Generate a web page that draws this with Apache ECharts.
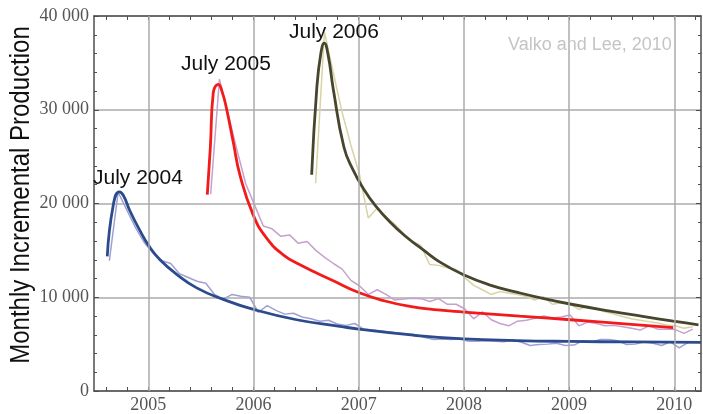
<!DOCTYPE html>
<html><head><meta charset="utf-8">
<script src="https://cdn.jsdelivr.net/npm/echarts@6/dist/echarts.min.js"></script>
<style>html,body{margin:0;padding:0;background:#fff}#c{width:703px;height:414px}</style>
</head><body><div id="c"></div>
<script>
// axis ranges and tick labels
const xMin = 2004.484, xMax = 2010.254;
const yearLabels = [2005, 2006, 2007, 2008, 2009, 2010];
const minorTickYears = [2004.6, 2004.8, 2005, 2005.2, 2005.4, 2005.6, 2005.8, 2006, 2006.2, 2006.4, 2006.6, 2006.8,
  2007, 2007.2, 2007.4, 2007.6, 2007.8, 2008, 2008.2, 2008.4, 2008.6, 2008.8, 2009, 2009.2, 2009.4, 2009.6, 2009.8, 2010, 2010.2];
const yMax = 40000, yStep = 10000;

// monthly raw production (start year, monthly values)
const blueRawStart = 2004.63;
const blueRaw = [13900, 21200, 19300, 17400, 15800, 14700, 13900, 13600, 12500, 12100, 11700, 11500, 10300, 9800, 10300, 10100, 10000,
  8400, 9100, 8600, 8200, 8300, 7900, 7700, 7450, 7550, 7150, 7000, 7200, 6600, 6500, 6400, 6300, 6200, 6100, 6000, 5700, 5500, 5550,
  5500, 5550, 5300, 5300, 5350, 5300, 5250, 5450, 5200, 4850, 4950, 5000, 5100, 4850, 4900, 5350, 5200, 5500, 5500, 5350, 4950, 5000,
  5250, 5100, 4850, 5250, 4600, 5150];
const redRawStart = 2005.593;
const redRaw = [21000, 33270, 29500, 25700, 22100, 19850, 17600, 17300, 16500, 16650, 15750, 15950, 15000, 14250, 13600, 13000, 11800,
  11200, 10300, 10800, 10300, 9700, 9800, 9900, 9850, 9550, 9850, 9250, 9250, 8750, 7700, 8450, 7600, 7200, 6950, 7450, 7550, 7750, 8000,
  7800, 7900, 8100, 6950, 7350, 7200, 6950, 7000, 6850, 6700, 6500, 6950, 6600, 6600, 6550, 6150, 6600];
const oliveRawStart = 2006.591;
const oliveRaw = [22160, 38300, 34000, 29800, 26300, 23100, 18450, 19500, 18600, 17800, 16800, 16000, 15500, 13500, 13400, 13150, 12950,
  12100, 11300, 10800, 10300, 10600, 10450, 10300, 10100, 9700, 10050, 9250, 9400, 9300, 8700, 9050, 8750, 8450, 8200, 7950, 7700, 7550,
  7400, 7250, 7050, 6950, 6700, 6850];

// fitted curves
const blueFitYears = [2004.61, 2004.667, 2004.724, 2004.762, 2004.826, 2004.921, 2005.01, 2005.111, 2005.27, 2005.46, 2005.713, 2006.0,
  2006.41, 2006.82, 2007.0, 2007.52, 2008.0, 2008.5, 2009.0, 2009.6, 2010.254];
const blueFitValues = [14360, 19820, 21240, 20880, 19200, 17100, 15400, 14000, 12450, 11000, 9770, 8700, 7600, 6900, 6600, 5950, 5560,
  5380, 5290, 5230, 5190];
const redFitYears = [2005.561, 2005.59, 2005.618, 2005.665, 2005.705, 2005.745, 2005.808, 2005.872, 2005.998, 2006.125, 2006.283, 2006.442,
  2006.759, 2007.0, 2007.25, 2007.5, 2007.75, 2008.0, 2008.53, 2009.01, 2009.5, 2009.99];
const redFitValues = [20950, 26000, 31820, 32700, 31800, 30050, 26530, 23000, 18760, 16300, 14530, 13470, 11750, 10500, 9600, 9000, 8650,
  8420, 7980, 7600, 7180, 6770];
const oliveFitYears = [2006.553, 2006.601, 2006.64, 2006.673, 2006.71, 2006.759, 2006.86, 2006.95, 2007.05, 2007.15, 2007.3, 2007.456,
  2007.62, 2007.773, 2007.997, 2008.25, 2008.5, 2008.75, 2009.009, 2009.389, 2009.7, 2009.99, 2010.23];
const oliveFitValues = [23070, 32170, 36000, 37110, 35800, 32170, 26000, 23500, 21500, 19900, 18000, 16400, 15000, 13750, 12400, 11300,
  10550, 9880, 9280, 8520, 7960, 7450, 7060];

// annotations
const peakLabels = ['July 2004', 'July 2005', 'July 2006'];
const sourceText = 'Valko and Lee, 2010';
const yTitle = 'Monthly Incremental Production';

function monthly(start, vals) { return vals.map((v, i) => [start + i / 12, v]); }
function pairs(xs, ys) { return xs.map((x, i) => [x, ys[i]]); }

const frame = '#4d4d4d', grid = '#ababab';
const serif = 'Liberation Serif', sans = 'Liberation Sans';

const chart = echarts.init(document.getElementById('c'), null, {renderer: 'canvas'});
const lineBase = {type: 'line', symbol: 'none', showSymbol: false, silent: true, animation: false, xAxisIndex: 0, yAxisIndex: 0};

chart.setOption({
  animation: false,
  backgroundColor: '#fff',
  grid: {left: 94, right: 2, top: 16, bottom: 20, containLabel: false},
  xAxis: [
    {type: 'value', min: xMin, max: xMax, position: 'bottom',
     axisLine: {show: true, onZero: false, lineStyle: {color: frame, width: 1.5}},
     axisTick: {show: true, inside: true, length: 4, customValues: minorTickYears, lineStyle: {color: frame, width: 1}},
     axisLabel: {show: true, customValues: yearLabels, formatter: v => String(Math.round(v)), margin: 5,
                 fontFamily: serif, fontSize: 18, color: '#555'},
     splitLine: {show: false}},
    {type: 'value', min: xMin, max: xMax, position: 'top',
     axisLine: {show: true, onZero: false, lineStyle: {color: frame, width: 1.5}},
     axisTick: {show: true, inside: true, length: 4, customValues: minorTickYears, lineStyle: {color: frame, width: 1}},
     axisLabel: {show: false}, splitLine: {show: false}}
  ],
  yAxis: [
    {type: 'value', min: 0, max: yMax, interval: yStep, position: 'left',
     axisLine: {show: true, lineStyle: {color: frame, width: 1.5}},
     axisTick: {show: true, inside: true, length: 5, lineStyle: {color: frame}},
     minorTick: {show: true, splitNumber: 5, length: 3, lineStyle: {color: frame}},
     axisLabel: {formatter: v => v === 0 ? '0' : (v / 1000) + ' 000', margin: 5, fontFamily: serif, fontSize: 18, color: '#555'},
     splitLine: {show: true, lineStyle: {color: grid, width: 1.5}}},
    {type: 'value', min: 0, max: yMax, interval: yStep, position: 'right',
     axisLine: {show: true, lineStyle: {color: frame, width: 1.5}},
     axisTick: {show: true, inside: true, length: 5, lineStyle: {color: frame}},
     minorTick: {show: true, splitNumber: 5, length: 3, lineStyle: {color: frame}},
     axisLabel: {show: false}, splitLine: {show: false}}
  ],
  series: [
    Object.assign({}, lineBase, {name: 'grid', z: 1, data: [[xMin, 0]], lineStyle: {opacity: 0},
      markLine: {silent: true, symbol: 'none', animation: false, label: {show: false},
        lineStyle: {color: grid, width: 1.5, type: 'solid'},
        data: yearLabels.map(y => ({xAxis: y}))}}),
    Object.assign({}, lineBase, {name: 'blueRaw', z: 2, data: monthly(blueRawStart, blueRaw), lineStyle: {color: '#9fa0d6', width: 1.5}}),
    Object.assign({}, lineBase, {name: 'redRaw', z: 2, data: monthly(redRawStart, redRaw), lineStyle: {color: '#c7a0cc', width: 1.5}}),
    Object.assign({}, lineBase, {name: 'oliveRaw', z: 2, data: monthly(oliveRawStart, oliveRaw), lineStyle: {color: '#d9d3a4', width: 1.5}}),
    Object.assign({}, lineBase, {name: 'blueFit', z: 3, smooth: 0.5, data: pairs(blueFitYears, blueFitValues), lineStyle: {color: '#2c4b8c', width: 2.8}}),
    Object.assign({}, lineBase, {name: 'redFit', z: 3, smooth: 0.5, data: pairs(redFitYears, redFitValues), lineStyle: {color: '#f21a1a', width: 2.8}}),
    Object.assign({}, lineBase, {name: 'oliveFit', z: 3, smooth: 0.5, data: pairs(oliveFitYears, oliveFitValues), lineStyle: {color: '#48452f', width: 2.8}})
  ],
  graphic: [
    {type: 'text', x: 22, y: 195, rotation: Math.PI / 2, scaleY: 1.12, z: 10,
     style: {text: yTitle, font: '24px "' + sans + '"', fill: '#111', textAlign: 'center', textVerticalAlign: 'middle'}},
    {type: 'text', x: 93, y: 178, scaleX: 1.05, z: 10, style: {text: peakLabels[0], font: '20px "' + sans + '"', fill: '#111', textAlign: 'left', textVerticalAlign: 'middle'}},
    {type: 'text', x: 181, y: 64, scaleX: 1.05, z: 10, style: {text: peakLabels[1], font: '20px "' + sans + '"', fill: '#111', textAlign: 'left', textVerticalAlign: 'middle'}},
    {type: 'text', x: 289, y: 32, scaleX: 1.05, z: 10, style: {text: peakLabels[2], font: '20px "' + sans + '"', fill: '#111', textAlign: 'left', textVerticalAlign: 'middle'}},
    {type: 'text', x: 508, y: 45, z: 10, style: {text: sourceText, font: '18px "' + sans + '"', fill: '#c4c4c4', textAlign: 'left', textVerticalAlign: 'middle'}}
  ]
});
</script></body></html>
